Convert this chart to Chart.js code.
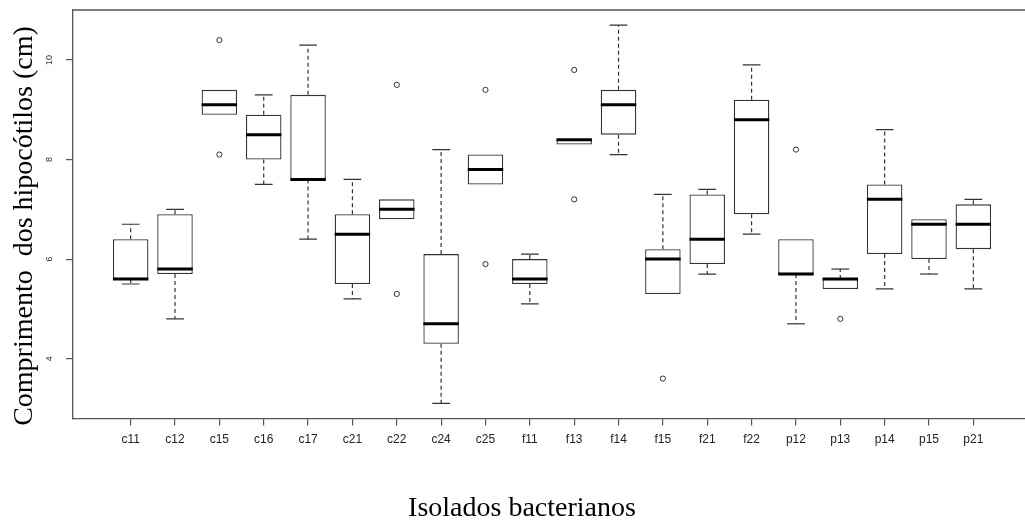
<!DOCTYPE html>
<html>
<head>
<meta charset="utf-8">
<script src="https://cdn.jsdelivr.net/npm/chart.js@4.4.1/dist/chart.umd.min.js"></script>
<style>
  html, body { margin: 0; padding: 0; background: #fff; overflow: hidden; }
  #wrap { width: 1036px; height: 521px; }
</style>
</head>
<body>
<div id="wrap"><canvas id="boxChart" width="1036" height="521"></canvas></div>
<script>
const isolados = ['c11', 'c12', 'c15', 'c16', 'c17', 'c21', 'c22', 'c24', 'c25', 'f11',
                  'f13', 'f14', 'f15', 'f21', 'f22', 'p12', 'p13', 'p14', 'p15', 'p21'];
const limiteInferior = [5.5, 4.8, 8.9, 7.5, 6.4, 5.2, 6.8, 3.1, 7.5, 5.1,
                        8.3, 8.1, 5.3, 5.7, 6.5, 4.7, 5.4, 5.4, 5.7, 5.4];
const quartil1 = [5.6, 5.7, 8.9, 8.0, 7.6, 5.5, 6.8, 4.3, 7.5, 5.5,
                  8.3, 8.5, 5.3, 5.9, 6.9, 5.7, 5.4, 6.1, 6.0, 6.2];
const mediana = [5.6, 5.8, 9.1, 8.5, 7.6, 6.5, 7.0, 4.7, 7.8, 5.6,
                 8.4, 9.1, 6.0, 6.4, 8.8, 5.7, 5.6, 7.2, 6.7, 6.7];
const quartil3 = [6.4, 6.9, 9.4, 8.9, 9.3, 6.9, 7.2, 6.1, 8.1, 6.0,
                  8.4, 9.4, 6.2, 7.3, 9.2, 6.4, 5.6, 7.5, 6.8, 7.1];
const limiteSuperior = [6.7, 7.0, 9.4, 9.3, 10.3, 7.6, 7.2, 8.2, 8.1, 6.1,
                        8.4, 10.7, 7.3, 7.4, 9.9, 6.4, 5.8, 8.6, 6.8, 7.2];
// Valores atípicos
const outlierIsolado = ['c15', 'c15', 'c22', 'c22', 'c25', 'c25', 'f13', 'f13', 'f15', 'p12', 'p13'];
const outlierValor = [10.4, 8.1, 9.5, 5.3, 9.4, 5.9, 9.8, 7.2, 3.6, 8.2, 4.8];
const ticksY = [4, 6, 8, 10];

const tituloY = 'Comprimento  dos hipocótilos (cm)';
const tituloX = 'Isolados bacterianos';

// Função para desenhar bigodes e medianas
const desenhoBoxplot = {
    id: 'desenhoBoxplot',
    afterDatasetsDraw(chart) {
        const { ctx, scales: { y } } = chart;
        const meta = chart.getDatasetMeta(0);
        ctx.save();
        isolados.forEach((nome, i) => {
            const barra = meta.data[i];
            const cx = barra.x;
            const meia = barra.width / 2;
            const yQ1 = y.getPixelForValue(quartil1[i]);
            const yQ3 = y.getPixelForValue(quartil3[i]);
            const yInf = y.getPixelForValue(limiteInferior[i]);
            const ySup = y.getPixelForValue(limiteSuperior[i]);

            ctx.strokeStyle = '#333';
            ctx.lineWidth = 1.2;
            ctx.setLineDash([4, 3]);
            ctx.beginPath();
            if (limiteSuperior[i] > quartil3[i]) { ctx.moveTo(cx, yQ3); ctx.lineTo(cx, ySup); }
            if (limiteInferior[i] < quartil1[i]) { ctx.moveTo(cx, yQ1); ctx.lineTo(cx, yInf); }
            ctx.stroke();

            ctx.setLineDash([]);
            ctx.beginPath();
            if (limiteSuperior[i] > quartil3[i]) { ctx.moveTo(cx - meia / 2, ySup); ctx.lineTo(cx + meia / 2, ySup); }
            if (limiteInferior[i] < quartil1[i]) { ctx.moveTo(cx - meia / 2, yInf); ctx.lineTo(cx + meia / 2, yInf); }
            ctx.stroke();

            // mediana
            const yMed = y.getPixelForValue(mediana[i]);
            ctx.strokeStyle = '#000';
            ctx.lineWidth = 3;
            ctx.beginPath();
            ctx.moveTo(cx - meia, yMed);
            ctx.lineTo(cx + meia, yMed);
            ctx.stroke();
        });
        ctx.restore();
    }
};

// Função para textos e borda superior
const textos = {
    id: 'textos',
    afterDraw(chart) {
        const { ctx, chartArea: area, scales: { y } } = chart;
        ctx.save();
        ctx.strokeStyle = '#555';
        ctx.lineWidth = 1.3;
        ctx.beginPath();
        ctx.moveTo(area.left, area.top);
        ctx.lineTo(area.right, area.top);
        ctx.stroke();

        ctx.fillStyle = '#333';
        ctx.font = '9px "Liberation Sans"';
        ctx.textAlign = 'center';
        ctx.textBaseline = 'alphabetic';
        ticksY.forEach(v => {
            ctx.save();
            ctx.translate(52, y.getPixelForValue(v));
            ctx.rotate(-Math.PI / 2);
            ctx.fillText(String(v), 0, 0);
            ctx.restore();
        });

        ctx.fillStyle = '#000';
        ctx.font = '28px "Liberation Serif"';
        ctx.save();
        ctx.translate(32, 226);
        ctx.rotate(-Math.PI / 2);
        ctx.fillText(tituloY, 0, 0);
        ctx.restore();
        ctx.fillText(tituloX, 522, 516);
        ctx.restore();
    }
};

const ctx = document.getElementById('boxChart').getContext('2d');
new Chart(ctx, {
    type: 'bar',
    data: {
        datasets: [{
            label: 'caixas',
            data: isolados.map((nome, i) => ({ x: i + 1, y: [quartil1[i], quartil3[i]] })),
            backgroundColor: '#fff',
            borderColor: '#333',
            borderWidth: 1.3,
            borderSkipped: false,
            categoryPercentage: 1,
            barPercentage: 0.8
        }, {
            type: 'scatter',
            label: 'outliers',
            data: outlierIsolado.map((nome, i) => ({ x: isolados.indexOf(nome) + 1, y: outlierValor[i] })),
            pointRadius: 2.6,
            pointBorderWidth: 1,
            pointBackgroundColor: '#fff',
            pointBorderColor: '#333'
        }]
    },
    options: {
        responsive: false,
        animation: false,
        layout: { padding: { top: 10, left: 0, right: 0, bottom: 0 } },
        plugins: {
            legend: { display: false },
            tooltip: { enabled: false }
        },
        scales: {
            x: {
                type: 'linear',
                min: -0.3,
                max: 21.3,
                offset: false,
                afterBuildTicks: s => { s.ticks = isolados.map((n, i) => ({ value: i + 1 })); },
                afterFit: s => { s.height = 102.4; },
                ticks: {
                    autoSkip: false,
                    maxRotation: 0,
                    padding: 7,
                    color: '#222',
                    font: { family: 'Liberation Sans', size: 12 },
                    callback: (v, i) => isolados[i]
                },
                grid: { offset: false, drawOnChartArea: false, drawTicks: true, tickLength: 7, color: '#555', lineWidth: 1.2 },
                border: { display: true, color: '#555', width: 1.3 }
            },
            y: {
                min: 2.796,
                max: 11.004,
                afterBuildTicks: s => { s.ticks = ticksY.map(v => ({ value: v })); },
                afterFit: s => { s.width = 73; },
                ticks: { display: false },
                grid: { drawOnChartArea: false, drawTicks: true, tickLength: 7, color: '#555', lineWidth: 1.2 },
                border: { display: true, color: '#555', width: 1.3 }
            }
        }
    },
    plugins: [desenhoBoxplot, textos]
});
</script>
</body>
</html>
